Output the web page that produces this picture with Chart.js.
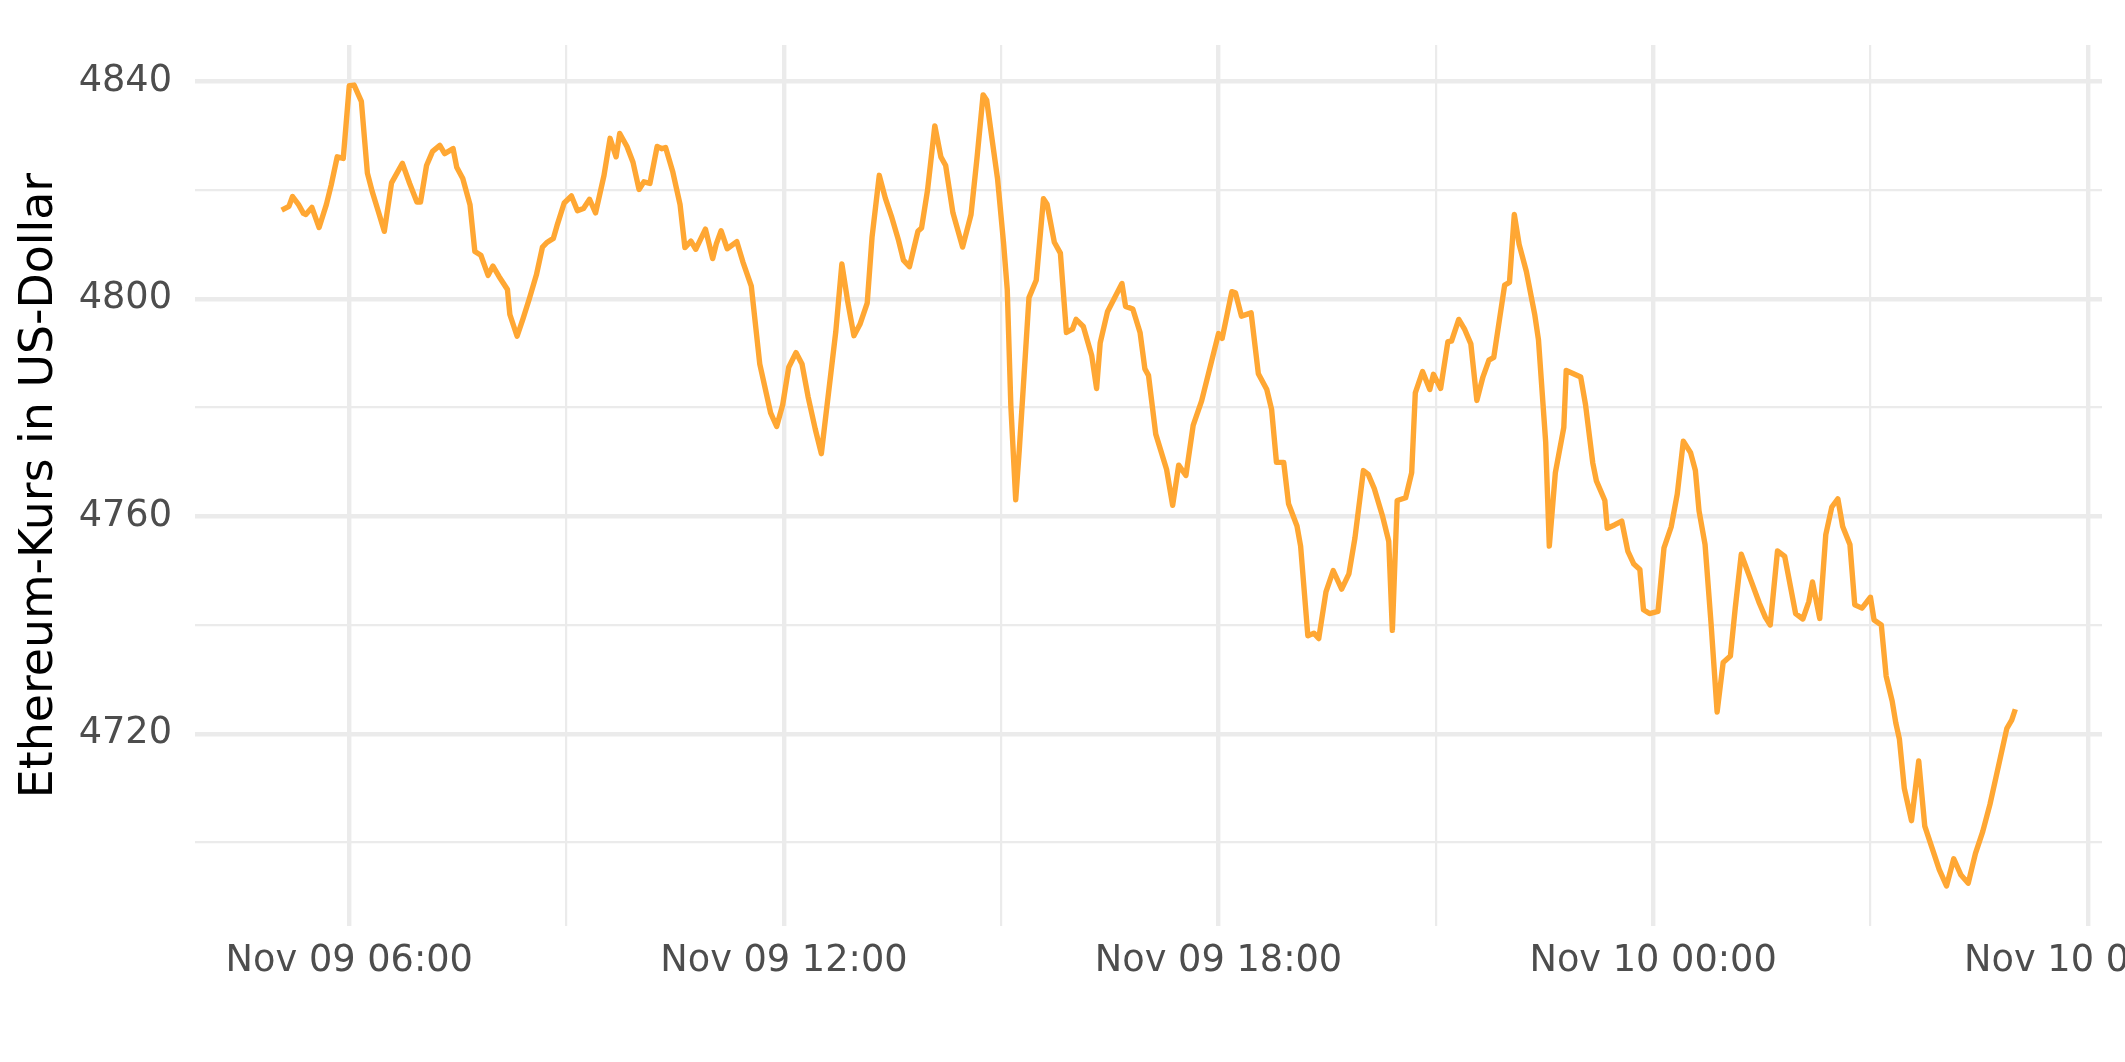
<!DOCTYPE html>
<html>
<head>
<meta charset="utf-8">
<script src="https://cdn.jsdelivr.net/npm/chart.js@4.4.0/dist/chart.umd.min.js"></script>
<style>
  html, body { margin: 0; padding: 0; background: #fff; overflow: hidden; }
  #wrap { width: 2125px; height: 1062px; overflow: hidden; }
</style>
</head>
<body>
<div id="wrap"><canvas id="ethChart" width="2300" height="1062"></canvas></div>
<script>
// minutes since Nov 09 00:00
const timeMin = [304, 310, 313, 318, 322, 324, 329, 335, 341, 345, 350, 355, 360, 364, 370, 375, 379, 384, 389, 395,
  404, 410, 416, 419, 424, 429, 435, 439, 446, 449, 454, 460, 464, 469, 475, 479, 484, 491, 493, 499,
  504, 509, 515, 520, 524, 529, 532, 538, 544, 549, 554, 559, 564, 571, 576, 581, 584, 590, 595, 600,
  604, 609, 615, 619, 622, 628, 634, 638, 643, 647, 655, 661, 664, 668, 673, 681, 686, 693, 700, 709,
  714, 719, 724, 730, 735, 740, 746, 751, 755, 763, 768, 773, 778, 783, 789, 793, 799, 804, 809, 815,
  819, 824, 831, 834, 839, 845, 850, 854, 860, 868, 875, 880, 885, 888, 892, 897, 902, 905, 908, 912,
  915, 919, 923, 929, 935, 938, 944, 949, 954, 959, 962, 968, 975, 979, 982, 988, 1000, 1003, 1009, 1015,
  1019, 1022, 1028, 1037, 1042, 1047, 1053, 1059, 1066, 1074, 1080, 1083, 1091, 1094, 1099, 1107, 1113, 1120, 1124, 1128,
  1134, 1138, 1145, 1148, 1154, 1159, 1163, 1169, 1175, 1182, 1188, 1193, 1200, 1204, 1209, 1216, 1221, 1224, 1228, 1235,
  1240, 1243, 1249, 1255, 1258, 1264, 1270, 1273, 1279, 1284, 1289, 1294, 1299, 1304, 1308, 1317, 1321, 1325, 1329, 1335,
  1342, 1345, 1351, 1354, 1359, 1366, 1368, 1380, 1384, 1390, 1393, 1400, 1402, 1408, 1414, 1419, 1424, 1429, 1432, 1437,
  1444, 1449, 1455, 1460, 1465, 1471, 1475, 1478, 1483, 1488, 1493, 1498, 1504, 1508, 1513, 1521, 1528, 1533, 1537, 1543,
  1549, 1558, 1564, 1569, 1572, 1578, 1583, 1588, 1593, 1597, 1603, 1607, 1613, 1620, 1623, 1629, 1633, 1638, 1641, 1644,
  1648, 1654, 1660, 1665, 1671, 1677, 1683, 1689, 1695, 1701, 1707, 1713, 1719, 1724, 1729, 1733, 1737, 1740];

const priceUsd = [4816.3, 4817.0, 4818.8, 4817.3, 4815.7, 4815.5, 4816.8, 4813.1, 4817.3, 4820.9, 4826.1, 4825.8, 4839.2, 4839.3, 4836.3, 4823.1, 4819.7, 4816.1, 4812.4, 4821.3,
  4824.9, 4821.2, 4817.8, 4817.8, 4824.5, 4827.1, 4828.2, 4826.7, 4827.6, 4824.2, 4822.1, 4817.3, 4808.7, 4808.0, 4804.3, 4806.0, 4804.1, 4801.7, 4797.1, 4793.1,
  4796.4, 4799.9, 4804.4, 4809.5, 4810.4, 4811.1, 4813.4, 4817.6, 4818.9, 4816.2, 4816.6, 4818.3, 4815.8, 4822.7, 4829.5, 4826.1, 4830.4, 4828.0, 4825.1, 4820.1,
  4821.5, 4821.2, 4828.0, 4827.6, 4827.8, 4823.3, 4817.3, 4809.4, 4810.6, 4809.1, 4812.8, 4807.4, 4810.1, 4812.5, 4809.2, 4810.5, 4806.8, 4802.3, 4788.0, 4779.0,
  4776.5, 4780.5, 4787.4, 4790.1, 4788.0, 4782.0, 4776.0, 4771.5, 4779.0, 4794.0, 4806.4, 4799.3, 4793.2, 4795.3, 4799.2, 4811.3, 4822.7, 4818.5, 4815.2, 4810.7,
  4807.1, 4805.9, 4812.4, 4813.0, 4820.0, 4831.8, 4826.1, 4824.5, 4815.8, 4809.5, 4815.5, 4826.0, 4837.5, 4836.5, 4830.0, 4822.0, 4810.1, 4801.7, 4780.2, 4763.0,
  4772.3, 4786.2, 4800.2, 4803.4, 4818.4, 4817.4, 4810.4, 4808.4, 4793.8, 4794.4, 4796.2, 4794.9, 4789.5, 4783.5, 4791.9, 4797.6, 4802.8, 4798.6, 4798.1, 4793.8,
  4787.1, 4785.9, 4775.1, 4768.6, 4762.0, 4769.4, 4767.5, 4776.7, 4781.2, 4788.3, 4793.6, 4792.7, 4801.3, 4801.1, 4796.8, 4797.4, 4786.2, 4783.3, 4779.6, 4769.9,
  4769.9, 4762.3, 4758.2, 4754.5, 4738.0, 4738.5, 4737.5, 4746.1, 4750.0, 4746.6, 4749.4, 4756.0, 4768.4, 4767.7, 4765.1, 4759.9, 4755.4, 4739.0, 4762.9, 4763.4,
  4768.0, 4782.7, 4786.6, 4783.3, 4786.1, 4783.5, 4792.1, 4792.2, 4796.2, 4794.3, 4791.7, 4781.3, 4785.6, 4788.7, 4789.2, 4802.5, 4803.0, 4815.5, 4810.0, 4805.0,
  4797.0, 4792.5, 4773.6, 4754.5, 4768.0, 4776.3, 4786.8, 4785.6, 4780.5, 4769.8, 4766.5, 4762.9, 4757.8, 4758.4, 4759.1, 4753.6, 4751.2, 4750.2, 4742.8, 4742.1,
  4742.5, 4754.2, 4758.1, 4764.1, 4773.8, 4771.7, 4768.4, 4761.0, 4754.8, 4740.2, 4724.0, 4733.1, 4734.3, 4743.1, 4753.0, 4748.2, 4744.0, 4741.4, 4740.0, 4753.6,
  4752.6, 4742.1, 4741.1, 4744.3, 4747.9, 4741.2, 4756.6, 4761.7, 4763.2, 4758.1, 4754.8, 4743.7, 4743.1, 4745.1, 4740.9, 4740.0, 4730.6, 4726.0, 4722.0, 4719.0,
  4710.0, 4704.0, 4715.0, 4703.0, 4699.0, 4695.0, 4692.0, 4697.0, 4694.0, 4692.5, 4698.0, 4702.0, 4707.0, 4712.0, 4717.0, 4721.0, 4722.5, 4724.5];

const xTickMin = [360, 720, 1080, 1440, 1800];
const xTickLabels = ["Nov 09 06:00", "Nov 09 12:00", "Nov 09 18:00", "Nov 10 00:00", "Nov 10 06:00"];
const yTickValues = [4720, 4760, 4800, 4840];

// ggplot-like 5% expansion
function expand(arr) {
    const lo = Math.min(...arr), hi = Math.max(...arr);
    const pad = (hi - lo) * 0.05;
    return [lo - pad, hi + pad];
}
const [xMin, xMax] = expand(timeMin);
const [yMin, yMax] = expand(priceUsd);

const GRID = "#ebebeb";
const tickFont = { family: "DejaVu Sans", size: 36.7 };

const ctx = document.getElementById("ethChart");
new Chart(ctx, {
    type: "line",
    data: {
        datasets: [{
            data: timeMin.map((m, i) => ({ x: m, y: priceUsd[i] })),
            borderColor: "#ffa733",
            borderWidth: 5.4,
            borderJoinStyle: "round",
            pointRadius: 0,
            tension: 0,
            fill: false
        }]
    },
    options: {
        responsive: false,
        devicePixelRatio: 1,
        animation: false,
        layout: { padding: { left: 0, top: 23, right: 198, bottom: 0 } },
        plugins: { legend: { display: false }, tooltip: { enabled: false } },
        scales: {
            x: {
                type: "linear",
                min: xMin,
                max: xMax,
                afterBuildTicks: s => {
                    const t = [];
                    for (let v = 180; v <= 1800; v += 180) if (v >= xMin && v <= xMax) t.push({ value: v });
                    s.ticks = t;
                },
                afterFit: s => { s.height = 136; },
                border: { display: false },
                grid: {
                    color: GRID,
                    drawTicks: false,
                    lineWidth: c => xTickMin.includes(c.tick.value) ? 4.4 : 2.2
                },
                ticks: {
                    autoSkip: false,
                    maxRotation: 0,
                    minRotation: 0,
                    padding: 13,
                    color: "#4d4d4d",
                    font: tickFont,
                    callback: v => {
                        const i = xTickMin.indexOf(v);
                        return i >= 0 ? xTickLabels[i] : "";
                    }
                }
            },
            y: {
                type: "linear",
                min: yMin,
                max: yMax,
                afterBuildTicks: s => {
                    const t = [];
                    for (let v = 4680; v <= 4860; v += 20) if (v >= yMin && v <= yMax) t.push({ value: v });
                    s.ticks = t;
                },
                afterFit: s => { s.width = 195; },
                border: { display: false },
                grid: {
                    color: GRID,
                    drawTicks: false,
                    lineWidth: c => yTickValues.includes(c.tick.value) ? 4.4 : 2.2
                },
                ticks: {
                    padding: 23,
                    color: "#4d4d4d",
                    font: tickFont,
                    callback: v => yTickValues.includes(v) ? String(v) : ""
                },
                title: {
                    display: true,
                    text: "Ethereum-Kurs in US-Dollar",
                    color: "#000000",
                    font: { family: "DejaVu Sans", size: 45.8, lineHeight: 1.2 },
                    padding: { top: 13, bottom: 0 }
                }
            }
        }
    }
});
</script>
</body>
</html>
